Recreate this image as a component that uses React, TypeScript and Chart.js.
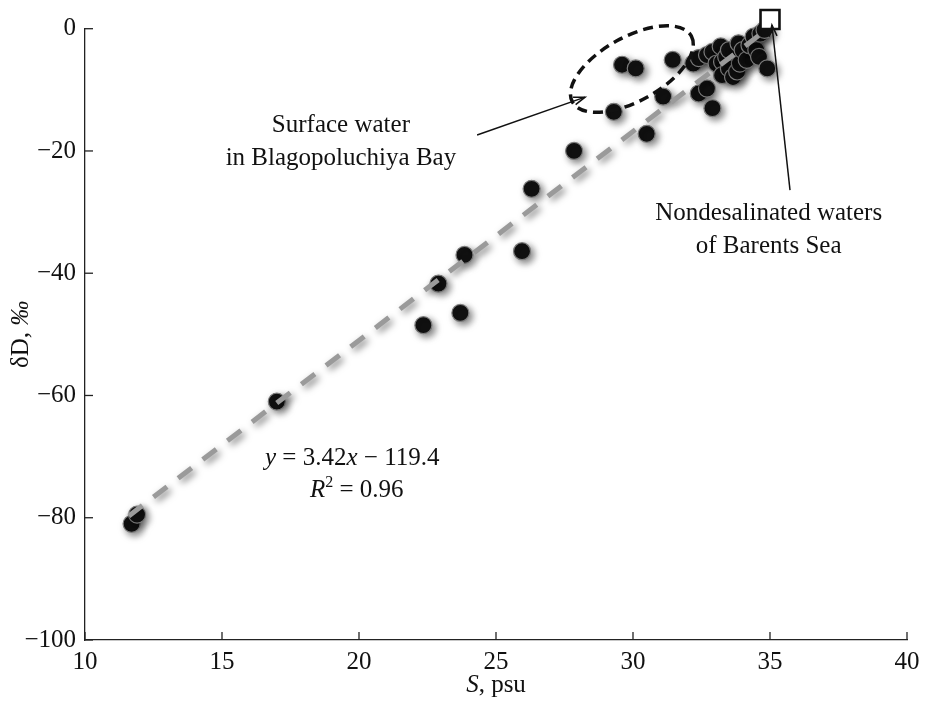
import React, { useEffect, useRef } from 'react';
import { Chart, registerables } from 'chart.js';

Chart.register(...registerables);

// ---- data ----
const salinity: number[] = [
  11.7, 11.9, 17.0, 22.35, 22.9, 23.7, 23.85, 25.95, 26.3, 27.85,
  29.3, 30.5, 31.1, 29.6, 30.1, 31.45,
  32.2, 32.4, 32.4, 32.7, 32.9, 32.7, 32.9, 33.05, 33.2, 33.25,
  33.25, 33.4, 33.5, 33.5, 33.65, 33.8, 33.85, 33.9, 34.0, 34.15,
  34.25, 34.4, 34.5, 34.6, 34.65, 34.8, 34.9,
];
const deltaD: number[] = [
  -81.0, -79.5, -61.0, -48.5, -41.7, -46.5, -37.0, -36.4, -26.2, -20.0,
  -13.6, -17.2, -11.1, -5.9, -6.5, -5.1,
  -5.7, -10.6, -4.8, -9.8, -13.0, -4.3, -3.8, -5.7, -2.9, -5.4,
  -7.6, -4.6, -3.5, -6.5, -7.9, -7.0, -2.4, -5.7, -3.5, -5.1,
  -2.7, -1.3, -3.5, -4.6, -0.8, -0.2, -6.5,
];
const barentsSalinity: number[] = [35.0];
const barentsDeltaD: number[] = [1.5];
const fitSalinity: number[] = [11.6, 34.9];
const fitDeltaD: number[] = [-79.7, -0.05];
const xTicks: number[] = [10, 15, 20, 25, 30, 35, 40];
const yTicks: number[] = [0, -20, -40, -60, -80, -100];

const FONT = "'Liberation Serif', 'Times New Roman', serif";
const FS = 25;

type Run = [string, boolean, number?, number?]; // text, italic, size, dy

function drawRuns(ctx: CanvasRenderingContext2D, runs: Run[], x: number, y: number, align: 'left' | 'center') {
  const widths = runs.map(([t, it, sz]) => {
    ctx.font = `${it ? 'italic ' : ''}${sz || FS}px ${FONT}`;
    return ctx.measureText(t).width;
  });
  const total = widths.reduce((a, b) => a + b, 0);
  let cx = align === 'center' ? x - total / 2 : x;
  ctx.textAlign = 'left';
  runs.forEach(([t, it, sz, dy], i) => {
    ctx.font = `${it ? 'italic ' : ''}${sz || FS}px ${FONT}`;
    ctx.fillText(t, cx, y + (dy || 0));
    cx += widths[i];
  });
}

function arrowHead(ctx: CanvasRenderingContext2D, x0: number, y0: number, x1: number, y1: number) {
  const ang = Math.atan2(y1 - y0, x1 - x0);
  const len = 12;
  const spread = 0.33;
  ctx.beginPath();
  ctx.moveTo(x1 - len * Math.cos(ang - spread), y1 - len * Math.sin(ang - spread));
  ctx.lineTo(x1, y1);
  ctx.lineTo(x1 - len * Math.cos(ang + spread), y1 - len * Math.sin(ang + spread));
  ctx.stroke();
}

const overlay = {
  id: 'overlay',
  beforeDatasetDraw(chart: any, args: any) {
    const ds = chart.data.datasets[args.index];
    if (ds.shadow) {
      const ctx = chart.ctx;
      ctx.save();
      ctx.shadowColor = 'rgba(0,0,0,0.5)';
      ctx.shadowBlur = 7;
      ctx.shadowOffsetX = 3;
      ctx.shadowOffsetY = 3;
    }
  },
  afterDatasetDraw(chart: any, args: any) {
    const ds = chart.data.datasets[args.index];
    if (ds.shadow) chart.ctx.restore();
  },
  afterDraw(chart: any) {
    const { ctx, chartArea: ca, scales } = chart;
    const x = scales.x;
    const y = scales.y;
    const px = (v: number) => x.getPixelForValue(v);
    const py = (v: number) => y.getPixelForValue(v);
    ctx.save();
    // inward ticks
    ctx.strokeStyle = '#222';
    ctx.lineWidth = 1.3;
    xTicks.forEach((v) => {
      ctx.beginPath();
      ctx.moveTo(px(v), ca.bottom);
      ctx.lineTo(px(v), ca.bottom - 8);
      ctx.stroke();
    });
    yTicks.forEach((v) => {
      ctx.beginPath();
      ctx.moveTo(ca.left, py(v));
      ctx.lineTo(ca.left + 8, py(v));
      ctx.stroke();
    });

    ctx.fillStyle = '#111';
    ctx.textBaseline = 'alphabetic';
    // x title
    drawRuns(ctx, [['S', true], [', psu', false]], (ca.left + ca.right) / 2, 692, 'center');
    // y title
    ctx.save();
    ctx.translate(21, (ca.top + ca.bottom) / 2);
    ctx.rotate(-Math.PI / 2);
    ctx.textBaseline = 'middle';
    drawRuns(ctx, [['δD, ', false], ['‰', true]], 0, 0, 'center');
    ctx.restore();

    // annotations
    ctx.textBaseline = 'alphabetic';
    drawRuns(ctx, [['Surface water', false]], px(19.34), py(-16.9), 'center');
    drawRuns(ctx, [['in Blagopoluchiya Bay', false]], px(19.34), py(-22.3), 'center');
    drawRuns(ctx, [['Nondesalinated waters', false]], px(34.95), py(-31.3), 'center');
    drawRuns(ctx, [['of Barents Sea', false]], px(34.95), py(-36.7), 'center');
    drawRuns(ctx, [['y', true], [' = 3.42', false], ['x', true], [' \u2212 119.4', false]], px(16.57), py(-71.4), 'left');
    drawRuns(ctx, [['R', true], ['2', false, 16, -10], [' = 0.96', false]], px(18.21), py(-76.6), 'left');

    // arrows
    ctx.strokeStyle = '#111';
    ctx.lineWidth = 1.5;
    const a1 = [px(24.31), py(-17.4), px(28.25), py(-11.2)];
    ctx.beginPath();
    ctx.moveTo(a1[0], a1[1]);
    ctx.lineTo(a1[2], a1[3]);
    ctx.stroke();
    arrowHead(ctx, a1[0], a1[1], a1[2], a1[3]);
    const a2 = [px(35.73), py(-26.4), px(35.07), py(0.6)];
    ctx.beginPath();
    ctx.moveTo(a2[0], a2[1]);
    ctx.lineTo(a2[2], a2[3]);
    ctx.stroke();
    arrowHead(ctx, a2[0], a2[1], a2[2], a2[3]);

    // dashed ellipse
    ctx.lineWidth = 3.5;
    ctx.setLineDash([10, 6]);
    ctx.beginPath();
    ctx.ellipse(px(29.96), py(-6.6), 68, 32, (-29 * Math.PI) / 180, 0, Math.PI * 2);
    ctx.stroke();
    ctx.restore();
  },
};

export default function App() {
  const ref = useRef<HTMLCanvasElement | null>(null);
  useEffect(() => {
    if (!ref.current) return;
    const minusFmt = (v: any) => (Number(v) < 0 ? '\u2212' + Math.abs(Number(v)) : String(v));
    const chart = new Chart(ref.current, {
      type: 'scatter',
      data: {
        datasets: [
          {
            label: 'Barents Sea',
            data: barentsSalinity.map((s, i) => ({ x: s, y: barentsDeltaD[i] })),
            pointStyle: 'rect',
            pointRadius: 13.4,
            pointBackgroundColor: '#ffffff',
            pointBorderColor: '#111111',
            pointBorderWidth: 2.6,
            order: 0,
            clip: false,
          } as any,
          {
            label: 'fit',
            data: fitSalinity.map((s, i) => ({ x: s, y: fitDeltaD[i] })),
            showLine: true,
            borderColor: '#9a9a9a',
            borderWidth: 5,
            borderDash: [17, 14],
            pointRadius: 0,
            order: 1,
            clip: false,
            shadow: true,
          } as any,
          {
            label: 'samples',
            data: salinity.map((s, i) => ({ x: s, y: deltaD[i] })),
            pointRadius: 8.5,
            pointBackgroundColor: '#111111',
            pointBorderColor: '#7d7d7d',
            pointBorderWidth: 1.2,
            order: 2,
            clip: false,
            shadow: true,
          } as any,
        ],
      },
      options: {
        responsive: false,
        animation: false,
        layout: { padding: { top: 28.7, right: 21, left: 0, bottom: 0 } },
        plugins: { legend: { display: false }, tooltip: { enabled: false } },
        scales: {
          x: {
            type: 'linear',
            min: 10,
            max: 40,
            afterBuildTicks: (s: any) => {
              s.ticks = xTicks.map((v) => ({ value: v }));
            },
            afterFit: (s: any) => {
              s.height = 62;
            },
            ticks: { font: { family: FONT, size: FS }, color: '#111', padding: 7, maxRotation: 0, autoSkip: false, callback: minusFmt },
            grid: { display: false, drawTicks: false },
            border: { display: true, color: '#222', width: 1.3 },
          },
          y: {
            type: 'linear',
            min: -100,
            max: 0,
            afterBuildTicks: (s: any) => {
              s.ticks = yTicks.map((v) => ({ value: v }));
            },
            afterFit: (s: any) => {
              s.width = 85;
            },
            ticks: { font: { family: FONT, size: FS }, color: '#111', padding: 9, autoSkip: false, callback: minusFmt },
            grid: { display: false, drawTicks: false },
            border: { display: true, color: '#222', width: 1.3 },
          },
        },
      } as any,
      plugins: [overlay as any],
    });
    return () => chart.destroy();
  }, []);
  return (
    <div style={{ position: 'fixed', left: 0, top: 0, width: 928, height: 702, background: '#fff' }}>
      <canvas ref={ref} width={928} height={702} style={{ display: 'block' }} />
    </div>
  );
}
